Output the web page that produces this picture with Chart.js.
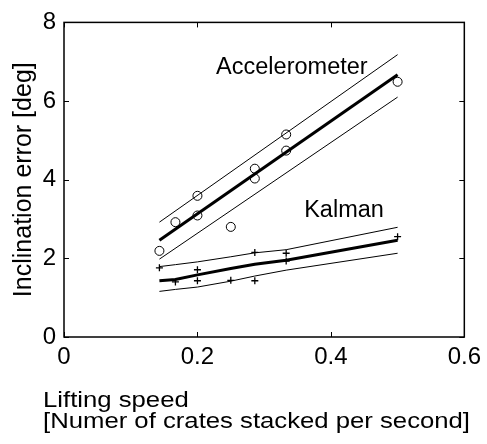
<!DOCTYPE html>
<html>
<head>
<meta charset="utf-8">
<title>Inclination error</title>
<script src="https://cdn.jsdelivr.net/npm/chart.js@4/dist/chart.umd.min.js"></script>
<style>
  html, body { margin: 0; padding: 0; background: #fff; }
  canvas { display: block; }
</style>
</head>
<body>
<canvas id="myChart" width="487" height="444"></canvas>
<script>
// lifting speeds (crates per second)
const speeds = [0.143, 0.167, 0.2, 0.25, 0.286, 0.333, 0.5];

// accelerometer: measured points and fitted line with bounds
const accelX = [0.143, 0.167, 0.2, 0.2, 0.25, 0.286, 0.286, 0.333, 0.333, 0.5];
const accelY = [2.19, 2.92, 3.09, 3.59, 2.8, 4.28, 4.03, 5.15, 4.74, 6.49];
const accelEnds = [0.143, 0.5];
const accelFit = [2.46, 6.67];
const accelUpper = [2.92, 7.18];
const accelLower = [1.98, 6.10];

// kalman: measured points and fitted line with bounds
const kalmanX = [0.143, 0.167, 0.2, 0.2, 0.25, 0.286, 0.286, 0.333, 0.333, 0.5];
const kalmanY = [1.76, 1.40, 1.71, 1.43, 1.44, 2.15, 1.43, 2.13, 1.93, 2.55];
const kalmanFit = [1.43, 1.46, 1.58, 1.74, 1.85, 1.95, 2.46];
const kalmanUpper = [1.79, 1.84, 1.91, 2.04, 2.14, 2.22, 2.79];
const kalmanLower = [1.16, 1.21, 1.27, 1.42, 1.55, 1.70, 2.13];

const xTicks = [0, 0.2, 0.4, 0.6];
const yTicks = [0, 2, 4, 6, 8];

const FONT = "'Liberation Sans', Arial, sans-serif";

function pairs(xs, ys) {
    return xs.map((x, i) => ({ x: x, y: ys[i] }));
}

function lineSet(xs, ys, width) {
    return {
        data: pairs(xs, ys),
        showLine: true,
        borderColor: '#000',
        borderWidth: width,
        pointRadius: 0,
        fill: false
    };
}

function pointSet(xs, ys, style, radius, width) {
    return {
        data: pairs(xs, ys),
        showLine: false,
        pointStyle: style,
        pointRadius: radius,
        pointBorderColor: '#000',
        pointBackgroundColor: 'rgba(0,0,0,0)',
        pointBorderWidth: width
    };
}

// box around the plot, inward ticks, text labels and the x title
const framePlugin = {
    id: 'frame',
    afterDraw(chart) {
        const ctx = chart.ctx;
        const { left, right, top, bottom } = chart.chartArea;
        const xs = chart.scales.x;
        const ys = chart.scales.y;
        const len = 5;

        ctx.save();
        ctx.strokeStyle = '#000';
        ctx.lineWidth = 1.5;
        ctx.strokeRect(left, top, right - left, bottom - top);

        ctx.lineWidth = 1;
        ctx.beginPath();
        xs.ticks.forEach(t => {
            const px = Math.round(xs.getPixelForValue(t.value)) + 0.5;
            ctx.moveTo(px, bottom); ctx.lineTo(px, bottom - len);
            ctx.moveTo(px, top); ctx.lineTo(px, top + len);
        });
        ys.ticks.forEach(t => {
            const py = Math.round(ys.getPixelForValue(t.value)) + 0.5;
            ctx.moveTo(left, py); ctx.lineTo(left + len, py);
            ctx.moveTo(right, py); ctx.lineTo(right - len, py);
        });
        ctx.stroke();

        ctx.fillStyle = '#000';
        ctx.textAlign = 'left';
        ctx.textBaseline = 'alphabetic';
        ctx.font = '23.5px ' + FONT;
        ctx.fillText('Accelerometer', xs.getPixelForValue(0.228), ys.getPixelForValue(6.69));
        ctx.fillText('Kalman', xs.getPixelForValue(0.36), ys.getPixelForValue(3.04));

        // x axis title, two lines, left aligned under the y labels
        ctx.font = '22px ' + FONT;
        const second = '[Numer of crates stacked per second]';
        const stretch = 427 / ctx.measureText(second).width;
        ctx.translate(43, 0);
        ctx.scale(stretch, 1);
        ctx.fillText('Lifting speed', 0, 407);
        ctx.fillText(second, 0, 428);
        ctx.restore();
    }
};

const ctx = document.getElementById('myChart').getContext('2d');

const myChart = new Chart(ctx, {
    type: 'scatter',
    data: {
        datasets: [
            lineSet(accelEnds, accelUpper, 1),
            lineSet(accelEnds, accelLower, 1),
            lineSet(accelEnds, accelFit, 3),
            pointSet(accelX, accelY, 'circle', 4.5, 1),
            lineSet(speeds, kalmanUpper, 1),
            lineSet(speeds, kalmanLower, 1),
            lineSet(speeds, kalmanFit, 3),
            pointSet(kalmanX, kalmanY, 'cross', 3.5, 1.3)
        ]
    },
    options: {
        responsive: false,
        animation: false,
        devicePixelRatio: 1,
        layout: { padding: { top: 19, right: 18, left: 0, bottom: 0 } },
        plugins: {
            legend: { display: false },
            tooltip: { enabled: false }
        },
        scales: {
            x: {
                type: 'linear',
                min: 0,
                max: 0.6,
                afterBuildTicks: s => { s.ticks = xTicks.map(v => ({ value: v })); },
                afterFit: s => { s.height = 107; },
                grid: { display: false, drawTicks: false },
                border: { display: false },
                ticks: {
                    color: '#000',
                    padding: 6,
                    font: { family: FONT, size: 24 },
                    callback: v => String(+v.toFixed(1))
                }
            },
            y: {
                type: 'linear',
                min: 0,
                max: 8,
                afterBuildTicks: s => { s.ticks = yTicks.map(v => ({ value: v })); },
                afterFit: s => { s.width = 64; },
                grid: { display: false, drawTicks: false },
                border: { display: false },
                ticks: {
                    color: '#000',
                    padding: 8,
                    font: { family: FONT, size: 24 },
                    callback: v => String(v)
                },
                title: {
                    display: true,
                    text: 'Inclination error [deg]',
                    color: '#000',
                    font: { family: FONT, size: 25 },
                    padding: { top: 9, bottom: 0 }
                }
            }
        }
    },
    plugins: [framePlugin]
});
</script>
</body>
</html>
